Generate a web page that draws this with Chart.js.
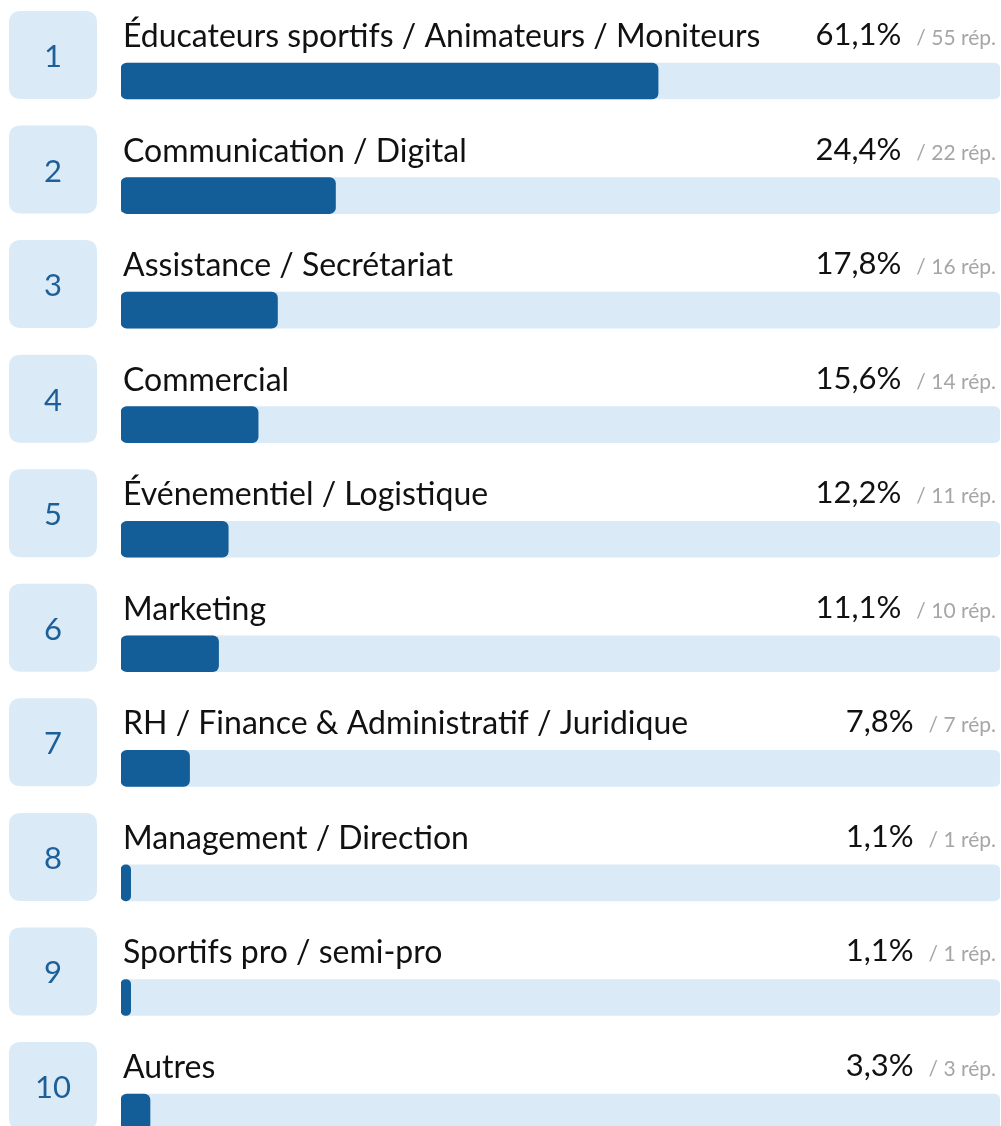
<!DOCTYPE html>
<html>
<head>
<meta charset="utf-8">
<script src="https://cdn.jsdelivr.net/npm/chart.js@4.4.1/dist/chart.umd.min.js"></script>
<style>
  html, body { margin: 0; padding: 0; background: #fff; }
  #wrap { width: 1001px; height: 1126px; }
</style>
</head>
<body>
<div id="wrap"><canvas id="rank"></canvas></div>
<script>
// data
const categories = [
    'Éducateurs sportifs / Animateurs / Moniteurs',
    'Communication / Digital',
    'Assistance / Secrétariat',
    'Commercial',
    'Événementiel / Logistique',
    'Marketing',
    'RH / Finance & Administratif / Juridique',
    'Management / Direction',
    'Sportifs pro / semi-pro',
    'Autres'
];
const percents = [61.1, 24.4, 17.8, 15.6, 12.2, 11.1, 7.8, 1.1, 1.1, 3.3];
const responses = [55, 22, 16, 14, 11, 10, 7, 1, 1, 3];
const ranks = [1, 2, 3, 4, 5, 6, 7, 8, 9, 10];

const DARK = '#135e98';
const LIGHT = '#daeaf7';
const FONT = 'Lato, "Open Sans", sans-serif';

function roundRect(ctx, x, y, w, h, r) {
    ctx.beginPath();
    ctx.moveTo(x + r, y);
    ctx.lineTo(x + w - r, y);
    ctx.quadraticCurveTo(x + w, y, x + w, y + r);
    ctx.lineTo(x + w, y + h - r);
    ctx.quadraticCurveTo(x + w, y + h, x + w - r, y + h);
    ctx.lineTo(x + r, y + h);
    ctx.quadraticCurveTo(x, y + h, x, y + h - r);
    ctx.lineTo(x, y + r);
    ctx.quadraticCurveTo(x, y, x + r, y);
    ctx.closePath();
}

// draws rank boxes, labels and percentages around each bar
const rowDecor = {
    id: 'rowDecor',
    afterDatasetsDraw(chart) {
        const ctx = chart.ctx;
        const bars = chart.getDatasetMeta(1).data;
        ctx.save();
        bars.forEach((bar, i) => {
            const top = bar.y - bar.height / 2;
            const bottom = bar.y + bar.height / 2;

            // rank box
            ctx.fillStyle = LIGHT;
            roundRect(ctx, 9, bottom - 88, 88, 88, 12);
            ctx.fill();
            ctx.fillStyle = '#1d5f98';
            ctx.font = '31px ' + FONT;
            ctx.textAlign = 'center';
            ctx.textBaseline = 'middle';
            ctx.fillText(String(ranks[i]), 53, bottom - 42);

            // label
            ctx.fillStyle = '#111';
            ctx.textAlign = 'left';
            ctx.textBaseline = 'alphabetic';
            ctx.font = '32px ' + FONT;
            ctx.fillText(categories[i], chart.chartArea.left + 2, top - 16);

            // responses + percent
            const rep = '/ ' + responses[i] + ' rép.';
            ctx.font = '21px ' + FONT;
            ctx.fillStyle = '#a6a6a6';
            ctx.textAlign = 'right';
            ctx.fillText(rep, 996, top - 18);
            const repW = ctx.measureText(rep).width;
            ctx.font = '31px ' + FONT;
            ctx.fillStyle = '#111';
            ctx.fillText(percents[i].toFixed(1).replace('.', ',') + '%', 996 - repW - 15, top - 18);
        });
        ctx.restore();
    }
};

const ctx = document.getElementById('rank').getContext('2d');
new Chart(ctx, {
    type: 'bar',
    data: {
        datasets: [
            {
                // filled part
                data: percents.map((v, i) => ({ x: v, y: i })),
                backgroundColor: DARK,
                borderRadius: 6,
                borderSkipped: false,
                barThickness: 36,
                grouped: false,
                order: 0
            },
            {
                // track
                data: percents.map((v, i) => ({ x: 100, y: i })),
                backgroundColor: LIGHT,
                borderRadius: 6,
                borderSkipped: false,
                barThickness: 36,
                grouped: false,
                order: 1
            }
        ]
    },
    options: {
        indexAxis: 'y',
        responsive: true,
        maintainAspectRatio: false,
        animation: false,
        layout: { padding: { left: 121, right: 1, top: 0, bottom: 0 } },
        plugins: { legend: { display: false }, tooltip: { enabled: false } },
        scales: {
            x: { type: 'linear', min: 0, max: 100, display: false },
            y: { type: 'linear', min: -0.707, max: 9.122, reverse: true, offset: false, display: false }
        }
    },
    plugins: [rowDecor]
});
</script>
</body>
</html>
